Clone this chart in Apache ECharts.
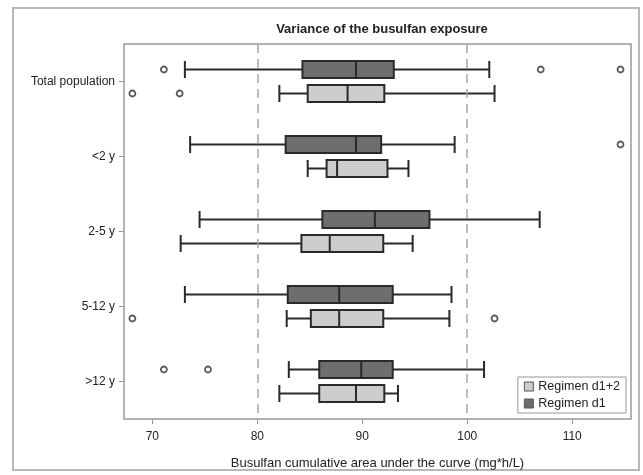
<!DOCTYPE html>
<html>
<head>
<meta charset="utf-8">
<script src="https://cdn.jsdelivr.net/npm/echarts@6/dist/echarts.min.js"></script>
<style>
  html, body { margin: 0; padding: 0; background: #fff; }
  #chart { width: 643px; height: 475px; }
</style>
</head>
<body>
<div id="chart"></div>
<script>
// groups on the y axis, top to bottom
const categories = ['Total population', '<2 y', '2-5 y', '5-12 y', '>12 y'];
// [min, Q1, median, Q3, max]
const regimenD1 = [
  [73.1, 84.3, 89.4, 93.0, 102.1],
  [73.6, 82.7, 89.4, 91.8, 98.8],
  [74.5, 86.2, 91.2, 96.4, 106.9],
  [73.1, 82.9, 87.8, 92.9, 98.5],
  [83.0, 85.9, 89.9, 92.9, 101.6]
];
const regimenD12 = [
  [82.1, 84.8, 88.6, 92.1, 102.6],
  [84.8, 86.6, 87.6, 92.4, 94.4],
  [72.7, 84.2, 86.9, 92.0, 94.8],
  [82.8, 85.1, 87.8, 92.0, 98.3],
  [82.1, 85.9, 89.4, 92.1, 93.4]
];
// [value, category index]
const outliersD1 = [[71.1, 0], [107.0, 0], [114.6, 0], [114.6, 1], [71.1, 4], [75.3, 4]];
const outliersD12 = [[68.1, 0], [72.6, 0], [68.1, 3], [102.6, 3]];
const xTicks = [70, 80, 90, 100, 110];
const refLines = [80, 100];

const xMin = 67.3, xMax = 115.6;
const font = 'Liberation Sans';
const darkFill = '#6e6e6e', lightFill = '#cdcdcd', edge = '#2a2a2a';

let chart = echarts.init(document.getElementById('chart'));

const hiddenX = (i) => ({ type: 'value', gridIndex: i, min: xMin, max: xMax, show: false });
const hiddenY = (i) => ({ type: 'category', gridIndex: i, data: categories, inverse: true, show: false });

const boxStyle = (fill) => ({ color: fill, borderColor: edge, borderWidth: 2 });
const outStyle = { color: '#fff', borderColor: '#333', borderWidth: 1.8 };

let option = {
  animation: false,
  title: {
    text: 'Variance of the busulfan exposure',
    left: 377, top: 18, textAlign: 'center',
    textStyle: { fontFamily: font, fontSize: 13, fontWeight: 'bold', color: '#222' }
  },
  graphic: [{
    type: 'rect', silent: true,
    shape: { x: 13, y: 8, width: 626, height: 462 },
    style: { fill: 'none', stroke: '#b8b8b8', lineWidth: 2 }
  }],
  legend: {
    data: [
      { name: 'Regimen d1+2', itemStyle: { color: lightFill, borderColor: '#555', borderWidth: 1 } },
      { name: 'Regimen d1', itemStyle: { color: darkFill, borderColor: '#555', borderWidth: 1 } }
    ],
    orient: 'vertical', right: 17, bottom: 62,
    icon: 'rect', itemWidth: 9, itemHeight: 9, itemGap: 4,
    padding: [3, 6, 3, 6],
    borderColor: '#999', borderWidth: 1, backgroundColor: '#fff',
    textStyle: { fontFamily: font, fontSize: 12.5, color: '#222' }
  },
  grid: [
    { left: 124, right: 12, top: 44, bottom: 56, show: true, borderColor: '#999', borderWidth: 1.5 },
    { left: 124, right: 12, top: 32, bottom: 68 },
    { left: 124, right: 12, top: 56, bottom: 44 }
  ],
  xAxis: [
    {
      type: 'value', gridIndex: 0, min: xMin, max: xMax,
      name: 'Busulfan cumulative area under the curve (mg*h/L)',
      nameLocation: 'middle', nameGap: 38,
      nameTextStyle: { fontFamily: font, fontSize: 13, color: '#222' },
      axisLine: { show: false },
      axisTick: { show: true, customValues: xTicks, length: 5, lineStyle: { color: '#999' } },
      axisLabel: { customValues: xTicks, margin: 12, fontFamily: font, fontSize: 12, color: '#222' },
      splitLine: { show: false }
    },
    hiddenX(1), hiddenX(2)
  ],
  yAxis: [
    {
      type: 'category', gridIndex: 0, data: categories, inverse: true,
      axisLine: { show: false },
      axisTick: { show: true, alignWithLabel: true, length: 5, lineStyle: { color: '#999' } },
      axisLabel: { margin: 9, fontFamily: font, fontSize: 12, color: '#222' },
      splitLine: { show: false }
    },
    hiddenY(1), hiddenY(2)
  ],
  series: [
    {
      name: 'ref', type: 'line', xAxisIndex: 0, yAxisIndex: 0, data: [],
      markLine: {
        silent: true, symbol: 'none', label: { show: false },
        lineStyle: { color: '#a8a8a8', type: [9, 6], width: 1.5 },
        data: refLines.map(v => ({ xAxis: v }))
      }
    },
    {
      name: 'Regimen d1', type: 'boxplot', xAxisIndex: 1, yAxisIndex: 1,
      boxWidth: [17, 17], data: regimenD1, itemStyle: boxStyle(darkFill), z: 3
    },
    {
      name: 'Regimen d1+2', type: 'boxplot', xAxisIndex: 2, yAxisIndex: 2,
      boxWidth: [17, 17], data: regimenD12, itemStyle: boxStyle(lightFill), z: 3
    },
    {
      name: 'out d1', type: 'scatter', xAxisIndex: 1, yAxisIndex: 1,
      data: outliersD1, symbol: 'circle', symbolSize: 6, itemStyle: outStyle, z: 4
    },
    {
      name: 'out d1+2', type: 'scatter', xAxisIndex: 2, yAxisIndex: 2,
      data: outliersD12, symbol: 'circle', symbolSize: 6, itemStyle: outStyle, z: 4
    }
  ]
};

chart.setOption(option);
window.addEventListener('resize', () => { chart.resize() });
</script>
</body>
</html>
